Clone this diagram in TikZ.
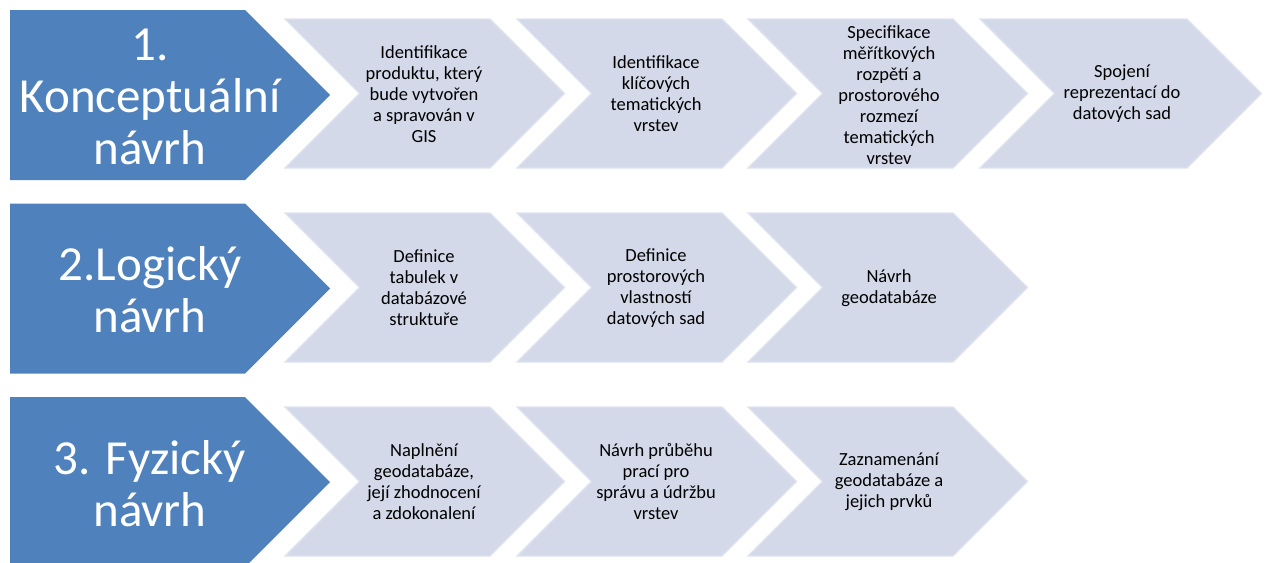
\documentclass[tikz,border=0pt]{standalone}
\usepackage{fontspec}
\setmainfont{Carlito}
\definecolor{phaseblue}{RGB}{79,129,189}
\definecolor{stepfill}{RGB}{211,217,232}
\definecolor{stepedge}{RGB}{222,227,239}
\tikzset{
  phasetext/.style={text=white, font=\fontsize{49}{52}\selectfont, align=center, inner sep=0pt},
  steptext/.style={text=black, font=\fontsize{18.5}{21}\selectfont, align=center, inner sep=0pt},
  phaseshape/.style={fill=phaseblue, draw=none},
  stepshape/.style={fill=stepfill, draw=stepedge, line width=1.2pt, line join=miter}
}
% pentagon: #1 left x, #2 top y, #3 flat-edge x, #4 height
\newcommand\phasepent[4]{%
  \path[phaseshape] (#1,#2) -- (#3,#2) -- ({#3+#4/2},{#2+#4/2}) -- (#3,{#2+#4}) -- (#1,{#2+#4}) -- cycle;}
% chevron: #1 left x, #2 top y, #3 width (top edge), #4 height
\newcommand\stepchev[4]{%
  \path[stepshape] (#1,#2) -- ({#1+#3},#2) -- ({#1+#3+#4/2},{#2+#4/2}) -- ({#1+#3},{#2+#4}) -- (#1,{#2+#4}) -- ({#1+#4/2},{#2+#4/2}) -- cycle;}
\begin{document}
\begin{tikzpicture}[x=1pt,y=-1pt]
\useasboundingbox (0,0) rectangle (1265,562);
\begin{scope}
\clip (0,0) rectangle (1265,562);
% row 1
\phasepent{10}{10}{245}{170}
\stepchev{285}{19}{205}{149}
\stepchev{517}{19}{205}{149}
\stepchev{748}{19}{205}{149}
\stepchev{980}{19}{207}{149}
% row 2
\phasepent{10}{203.5}{245}{170}
\stepchev{285}{213}{205}{149}
\stepchev{517}{213}{205}{149}
\stepchev{748}{213}{205}{149}
% row 3
\phasepent{10}{397}{245}{170}
\stepchev{285}{407}{205}{149}
\stepchev{517}{407}{205}{149}
\stepchev{748}{407}{205}{149}
\end{scope}
% texts row 1
\node[phasetext] (p1) at (150,97) {1.\\Konceptuální\\návrh};
\node[steptext] (s11) at (424,94) {Identifikace\\produktu, který\\bude vytvořen\\a spravován v\\GIS};
\node[steptext] (s12) at (656,94) {Identifikace\\klíčových\\tematických\\vrstev};
\node[steptext] (s13) at (889,95) {Specifikace\\měřítkových\\rozpětí a\\prostorového\\rozmezí\\tematických\\vrstev};
\node[steptext] (s14) at (1122,94) {Spojení\\reprezentací do\\datových sad};
% texts row 2
\node[phasetext] (p2) at (150,290) {2.Logický\\návrh};
\node[steptext] (s21) at (424,288) {Definice\\tabulek v\\databázové\\struktuře};
\node[steptext] (s22) at (656,288) {Definice\\prostorových\\vlastností\\datových sad};
\node[steptext] (s23) at (889,288) {Návrh\\geodatabáze};
% texts row 3
\node[phasetext] (p3) at (150,484) {3. Fyzický\\návrh};
\node[steptext] (s31) at (424,482) {Naplnění\\geodatabáze,\\její zhodnocení\\a zdokonalení};
\node[steptext] (s32) at (656,482) {Návrh průběhu\\prací pro\\správu a údržbu\\vrstev};
\node[steptext] (s33) at (889,482) {Zaznamenání\\geodatabáze a\\jejich prvků};
\end{tikzpicture}
\end{document}
